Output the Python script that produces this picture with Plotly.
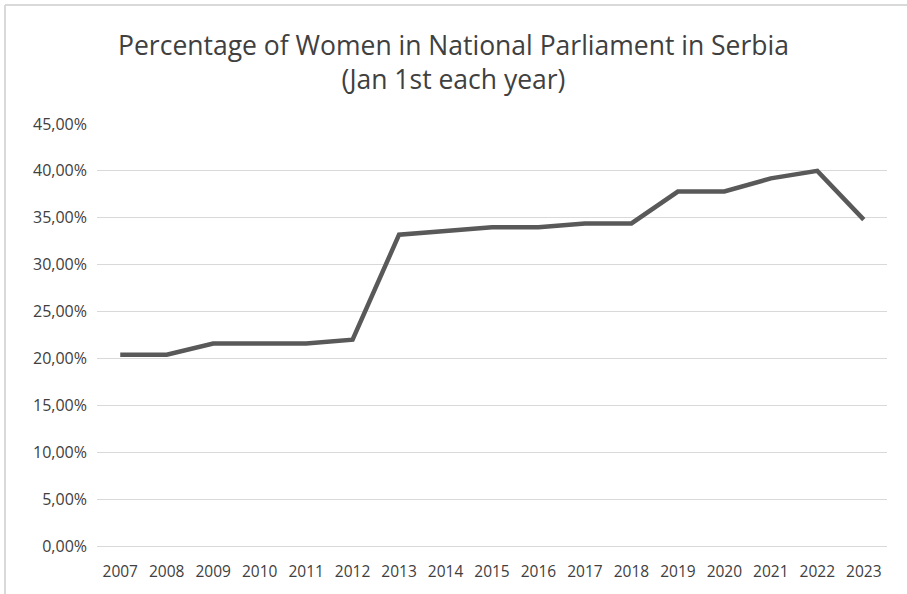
import plotly.graph_objects as go

years = ["2007", "2008", "2009", "2010", "2011", "2012", "2013", "2014", "2015",
         "2016", "2017", "2018", "2019", "2020", "2021", "2022", "2023"]
women_pct = [0.204, 0.204, 0.216, 0.216, 0.216, 0.220, 0.332, 0.336, 0.340,
             0.340, 0.344, 0.344, 0.378, 0.378, 0.392, 0.400, 0.348]
y_ticks = [0.0, 0.05, 0.10, 0.15, 0.20, 0.25, 0.30, 0.35, 0.40, 0.45]
y_labels = ["0,00%", "5,00%", "10,00%", "15,00%", "20,00%", "25,00%",
            "30,00%", "35,00%", "40,00%", "45,00%"]

FONT = "Open Sans"
L, R, T, B = 97, 20, 124, 48
W, H = 907, 594
pw, ph = W - L - R, H - T - B

fig = go.Figure()
fig.add_trace(go.Scatter(
    x=years, y=women_pct, mode="lines",
    line=dict(color="#595959", width=4.5),
    hoverinfo="skip", showlegend=False,
))

fig.update_layout(
    width=W, height=H,
    margin=dict(l=L, r=R, t=T, b=B),
    paper_bgcolor="white", plot_bgcolor="white",
    title=dict(
        text="Percentage of Women in National Parliament in Serbia<br>(Jan 1st each year)",
        x=0.5, xanchor="center", y=1 - 55 / H, yanchor="top",
        font=dict(family=FONT, size=26.5, color="#404040"),
    ),
    xaxis=dict(
        type="category", showgrid=False, showline=False, zeroline=False,
        ticks="", tickfont=dict(family=FONT, size=15.5, color="#404040"),
        range=[-0.5, len(years) - 0.5],
        ticklabelstandoff=14,
    ),
    yaxis=dict(
        range=[0, 0.45], tickvals=y_ticks, ticktext=y_labels,
        showgrid=True, gridcolor="#d9d9d9", gridwidth=1.3,
        zeroline=True, zerolinecolor="#d9d9d9", zerolinewidth=1.3,
        showline=False, ticks="",
        tickfont=dict(family=FONT, size=16, color="#404040"),
        ticklabelstandoff=9,
    ),
    shapes=[
        dict(type="line", xref="paper", yref="paper",
             x0=(5 - L) / pw, x1=(W - L) / pw,
             y0=(H - B - 5) / ph, y1=(H - B - 5) / ph,
             line=dict(color="#d9d9d9", width=2)),
        dict(type="line", xref="paper", yref="paper",
             x0=(5 - L) / pw, x1=(5 - L) / pw,
             y0=(H - B - 5) / ph, y1=(H - B - H) / ph,
             line=dict(color="#d9d9d9", width=2)),
    ],
)

fig.write_html("out.html",
               config={"displayModeBar": False},
               post_script="document.body.style.margin='0px';document.body.style.overflow='hidden';")
